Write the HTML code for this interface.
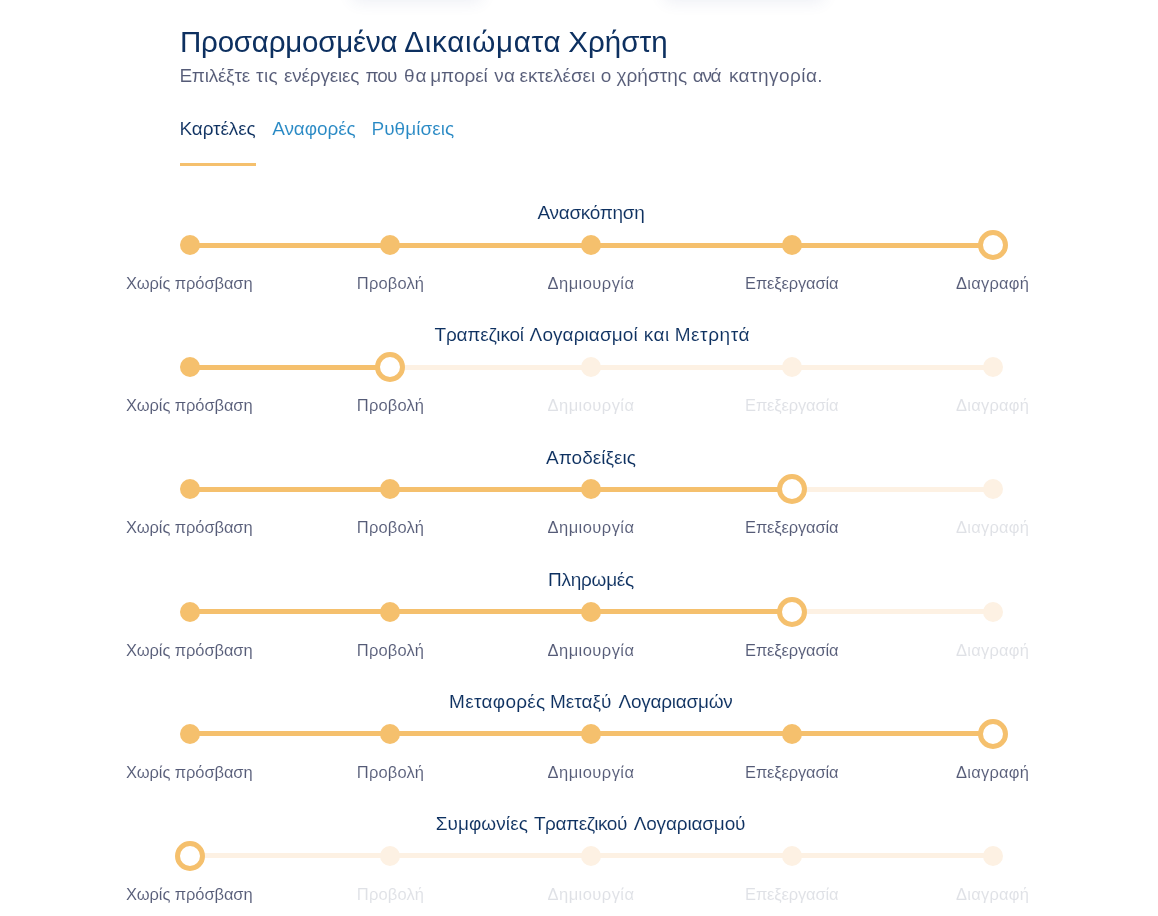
<!DOCTYPE html>
<html lang="el">
<head>
<meta charset="utf-8">
<title>Προσαρμοσμένα Δικαιώματα Χρήστη</title>
<style>
*{box-sizing:border-box;margin:0;padding:0}
html,body{width:1158px;height:916px;overflow:hidden;background:#fff}
body{font-family:"Liberation Sans","DejaVu Sans",sans-serif;color:#0d3060}
.page{position:relative;width:1158px;height:916px;overflow:hidden}
.sh{position:absolute;top:-30px;height:30px;border-radius:6px;background:#fff;box-shadow:0 2px 16px rgba(60,80,140,.09)}
.sh1{left:352px;width:130px}
.sh2{left:664px;width:160px}
.title{position:absolute;left:180px;top:22px;font-size:29.5px;line-height:40px;font-weight:400;color:#0d3060;white-space:nowrap}
.sub{position:absolute;left:179.3px;top:64px;font-size:19px;line-height:24px;color:#555b77;white-space:nowrap;-webkit-text-stroke:.08px #fff}
.tabs{list-style:none}
.tab{position:absolute;top:116px;font-size:19px;line-height:26px;color:#2688c4;white-space:nowrap;-webkit-text-stroke:.1px #fff}
.tab.active{color:#0d3060}
.tabline{position:absolute;left:180px;top:163px;width:76px;height:3px;background:#f5c06d}
.row{position:absolute;left:0;width:1158px;height:122px}
.rt{position:absolute;left:0;width:1182px;top:10px;text-align:center;font-size:19px;line-height:26px;font-weight:400;color:#0d3060;white-space:nowrap;-webkit-text-stroke:.1px #fff}
.track{position:absolute;left:190px;width:803px;top:53px;height:5px;background:#fdf1e3}
.fill{position:absolute;left:190px;top:53px;height:5px;background:#f5c06d}
.dot{position:absolute;top:45px;width:20px;height:20px;margin-left:-10px;border-radius:50%;background:#f5c06d}
.dot.off{background:#fdf1e3}
.dot.handle{top:40px;width:30px;height:30px;margin-left:-15px;background:#fff;border:5px solid #f5c06d}
.lb{position:absolute;top:81px;transform:translateX(-50%);font-size:16.5px;line-height:24px;color:#555b77;white-space:nowrap;-webkit-text-stroke:.08px #fff}
.lb.dim{color:#dfe1e6}
.wp{left:0;width:1158px;height:40px;text-align:left}
.w{position:absolute;top:0;left:0;white-space:nowrap}
</style>
</head>
<body>
<div class="page">
<div class="sh sh1"></div><div class="sh sh2"></div>
<h1 class="title wp"><span class="w" style="left:179.98px;letter-spacing:-0.211px">Προσαρμοσμένα</span> <span class="w" style="left:404.30px;letter-spacing:0.744px">Δικαιώματα</span> <span class="w" style="left:568.37px;letter-spacing:0.026px">Χρήστη</span></h1>
<p class="sub wp"><span class="w" style="left:179.39px;letter-spacing:-0.245px">Επιλέξτε</span> <span class="w" style="left:256.12px;letter-spacing:0.394px">τις</span> <span class="w" style="left:284.00px;letter-spacing:-0.195px">ενέργειες</span> <span class="w" style="left:365.59px;letter-spacing:-1.054px">που</span> <span class="w" style="left:403.88px;letter-spacing:1.035px">θα</span> <span class="w" style="left:430.22px;letter-spacing:-0.047px">μπορεί</span> <span class="w" style="left:494.24px;letter-spacing:0.185px">να</span> <span class="w" style="left:519.58px;letter-spacing:-0.087px">εκτελέσει</span> <span class="w" style="left:600.63px;letter-spacing:0.000px">ο</span> <span class="w" style="left:616.38px;letter-spacing:0.069px">χρήστης</span> <span class="w" style="left:692.74px;letter-spacing:-1.300px">ανά</span> <span class="w" style="left:728.89px;letter-spacing:0.451px">κατηγορία.</span></p>
<ul class="tabs"><li class="tab active" style="left:179.5px;letter-spacing:-0.120px;">Καρτέλες</li><li class="tab" style="left:272.2px;letter-spacing:-0.080px;">Αναφορές</li><li class="tab" style="left:371.5px;letter-spacing:0.030px;">Ρυθμίσεις</li></ul>
<div class="tabline"></div>
<section class="row" style="top:190px">
  <h2 class="rt" style="top:10px;letter-spacing:-0.320px;">Ανασκόπηση</h2>
  <div class="track" style="top:53px"></div>
  <div class="fill" style="top:53px;width:803px"></div>
  <span class="dot on" style="left:190px"></span>
  <span class="dot on" style="left:390px"></span>
  <span class="dot on" style="left:591px"></span>
  <span class="dot on" style="left:792px"></span>
  <span class="dot handle" style="left:993px"></span>
  <span class="lb" style="top:81px;left:189.2px;letter-spacing:-0.100px;">Χωρίς πρόσβαση</span>
  <span class="lb" style="top:81px;left:390.5px;letter-spacing:0.150px;">Προβολή</span>
  <span class="lb" style="top:81px;left:591px;letter-spacing:0.450px;">Δημιουργία</span>
  <span class="lb" style="top:81px;left:791.7px;letter-spacing:-0.165px;">Επεξεργασία</span>
  <span class="lb" style="top:81px;left:992.6px;letter-spacing:0.250px;">Διαγραφή</span>
</section>
<section class="row" style="top:312px">
  <h2 class="rt wp" style="top:10px"><span class="w" style="left:434.55px;letter-spacing:-0.198px">Τραπεζικοί</span> <span class="w" style="left:529.62px;letter-spacing:0.082px">Λογαριασμοί</span> <span class="w" style="left:643.66px;letter-spacing:0.580px">και</span> <span class="w" style="left:674.74px;letter-spacing:0.543px">Μετρητά</span></h2>
  <div class="track" style="top:53px"></div>
  <div class="fill" style="top:53px;width:200px"></div>
  <span class="dot on" style="left:190px"></span>
  <span class="dot handle" style="left:390px"></span>
  <span class="dot off" style="left:591px"></span>
  <span class="dot off" style="left:792px"></span>
  <span class="dot off" style="left:993px"></span>
  <span class="lb" style="top:81px;left:189.2px;letter-spacing:-0.100px;">Χωρίς πρόσβαση</span>
  <span class="lb" style="top:81px;left:390.5px;letter-spacing:0.150px;">Προβολή</span>
  <span class="lb dim" style="top:81px;left:591px;letter-spacing:0.450px;">Δημιουργία</span>
  <span class="lb dim" style="top:81px;left:791.7px;letter-spacing:-0.165px;">Επεξεργασία</span>
  <span class="lb dim" style="top:81px;left:992.6px;letter-spacing:0.250px;">Διαγραφή</span>
</section>
<section class="row" style="top:434px">
  <h2 class="rt" style="top:11px;letter-spacing:0.040px;">Αποδείξεις</h2>
  <div class="track" style="top:53px"></div>
  <div class="fill" style="top:53px;width:602px"></div>
  <span class="dot on" style="left:190px"></span>
  <span class="dot on" style="left:390px"></span>
  <span class="dot on" style="left:591px"></span>
  <span class="dot handle" style="left:792px"></span>
  <span class="dot off" style="left:993px"></span>
  <span class="lb" style="top:81px;left:189.2px;letter-spacing:-0.100px;">Χωρίς πρόσβαση</span>
  <span class="lb" style="top:81px;left:390.5px;letter-spacing:0.150px;">Προβολή</span>
  <span class="lb" style="top:81px;left:591px;letter-spacing:0.450px;">Δημιουργία</span>
  <span class="lb" style="top:81px;left:791.7px;letter-spacing:-0.165px;">Επεξεργασία</span>
  <span class="lb dim" style="top:81px;left:992.6px;letter-spacing:0.250px;">Διαγραφή</span>
</section>
<section class="row" style="top:557px">
  <h2 class="rt" style="top:10px;letter-spacing:-0.270px;">Πληρωμές</h2>
  <div class="track" style="top:52px"></div>
  <div class="fill" style="top:52px;width:602px"></div>
  <span class="dot on" style="left:190px"></span>
  <span class="dot on" style="left:390px"></span>
  <span class="dot on" style="left:591px"></span>
  <span class="dot handle" style="left:792px"></span>
  <span class="dot off" style="left:993px"></span>
  <span class="lb" style="top:81px;left:189.2px;letter-spacing:-0.100px;">Χωρίς πρόσβαση</span>
  <span class="lb" style="top:81px;left:390.5px;letter-spacing:0.150px;">Προβολή</span>
  <span class="lb" style="top:81px;left:591px;letter-spacing:0.450px;">Δημιουργία</span>
  <span class="lb" style="top:81px;left:791.7px;letter-spacing:-0.165px;">Επεξεργασία</span>
  <span class="lb dim" style="top:81px;left:992.6px;letter-spacing:0.250px;">Διαγραφή</span>
</section>
<section class="row" style="top:679px">
  <h2 class="rt wp" style="top:10px"><span class="w" style="left:449.05px;letter-spacing:0.298px">Μεταφορές</span> <span class="w" style="left:549.92px;letter-spacing:0.016px">Μεταξύ</span> <span class="w" style="left:618.44px;letter-spacing:-0.238px">Λογαριασμών</span></h2>
  <div class="track" style="top:52px"></div>
  <div class="fill" style="top:52px;width:803px"></div>
  <span class="dot on" style="left:190px"></span>
  <span class="dot on" style="left:390px"></span>
  <span class="dot on" style="left:591px"></span>
  <span class="dot on" style="left:792px"></span>
  <span class="dot handle" style="left:993px"></span>
  <span class="lb" style="top:81px;left:189.2px;letter-spacing:-0.100px;">Χωρίς πρόσβαση</span>
  <span class="lb" style="top:81px;left:390.5px;letter-spacing:0.150px;">Προβολή</span>
  <span class="lb" style="top:81px;left:591px;letter-spacing:0.450px;">Δημιουργία</span>
  <span class="lb" style="top:81px;left:791.7px;letter-spacing:-0.165px;">Επεξεργασία</span>
  <span class="lb" style="top:81px;left:992.6px;letter-spacing:0.250px;">Διαγραφή</span>
</section>
<section class="row" style="top:801px">
  <h2 class="rt wp" style="top:10px"><span class="w" style="left:435.65px;letter-spacing:0.079px">Συμφωνίες</span> <span class="w" style="left:533.96px;letter-spacing:-0.451px">Τραπεζικού</span> <span class="w" style="left:633.65px;letter-spacing:-0.157px">Λογαριασμού</span></h2>
  <div class="track" style="top:52px"></div>
  <span class="dot handle" style="left:190px"></span>
  <span class="dot off" style="left:390px"></span>
  <span class="dot off" style="left:591px"></span>
  <span class="dot off" style="left:792px"></span>
  <span class="dot off" style="left:993px"></span>
  <span class="lb" style="top:81px;left:189.2px;letter-spacing:-0.100px;">Χωρίς πρόσβαση</span>
  <span class="lb dim" style="top:81px;left:390.5px;letter-spacing:0.150px;">Προβολή</span>
  <span class="lb dim" style="top:81px;left:591px;letter-spacing:0.450px;">Δημιουργία</span>
  <span class="lb dim" style="top:81px;left:791.7px;letter-spacing:-0.165px;">Επεξεργασία</span>
  <span class="lb dim" style="top:81px;left:992.6px;letter-spacing:0.250px;">Διαγραφή</span>
</section>
</div>
</body>
</html>
